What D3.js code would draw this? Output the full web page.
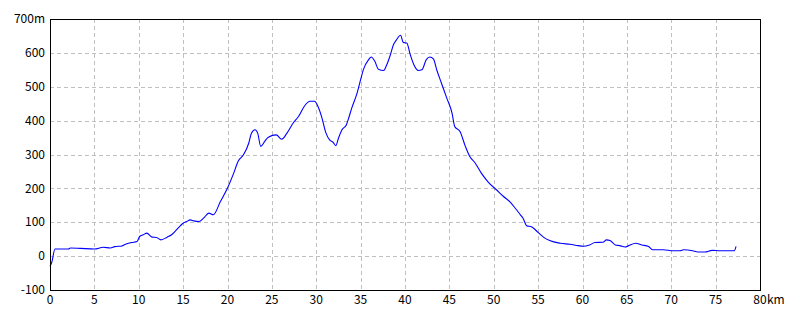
<!DOCTYPE html>
<html>
<head>
<meta charset="utf-8">
<script src="https://cdn.jsdelivr.net/npm/d3@7"></script>
<style>
  body { margin: 0; background: #fff; }
  text { font-family: "Noto Sans CJK JP", "DejaVu Sans", sans-serif; font-size: 12px; fill: #000; }
</style>
</head>
<body>
<div id="chart"></div>
<script>
// elevation profile
var distanceKm = [0, 0.2, 0.56, 2.07, 2.3, 3.4, 5.0, 6.0, 6.8, 7.3, 8.1, 8.5, 9.2, 9.8, 10.1, 10.5, 10.9,
  11.5, 12.0, 12.5, 13.2, 13.7, 14.1, 14.7, 15.0, 15.4, 15.8, 16.2, 16.8, 17.3, 17.9, 18.4, 19.2, 20.0,
  20.7, 21.2, 21.8, 22.4, 22.7, 23.1, 23.4, 23.75, 24.2, 24.6, 25.5, 26.1, 26.7, 27.4, 28.0, 28.7, 29.3,
  29.8, 30.2, 30.6, 31.1, 31.5, 31.9, 32.2, 32.5, 32.9, 33.4, 33.6, 34.0, 34.6, 35.0, 35.3, 35.9, 36.2,
  36.6, 37.0, 37.6, 37.9, 38.3, 38.7, 39.0, 39.5, 39.8, 40.2, 40.6, 41.0, 41.5, 41.9, 42.4, 42.8, 43.2,
  43.6, 44.1, 44.7, 45.3, 45.6, 46.2, 46.8, 47.3, 47.9, 48.6, 49.4, 50.3, 51.1, 51.8, 52.4, 53.0, 53.3,
  53.7, 54.3, 55.0, 55.6, 56.3, 57.5, 58.6, 59.5, 60.1, 60.8, 61.4, 62.3, 62.7, 63.1, 63.7, 64.2, 64.8,
  65.2, 66.0, 66.7, 67.4, 67.9, 69.1, 70.2, 71.0, 71.4, 72.4, 73.0, 73.8, 74.6, 75.5, 77.1, 77.3];
var elevationM = [-30, -18, 21, 21, 24, 23, 21, 26, 24, 28, 30, 35, 40, 43, 58, 63, 68,
  56, 55, 48, 56, 63, 73, 90, 97, 102, 107, 104, 102, 112, 127, 122, 161, 201,
  245, 280, 299, 334, 363, 373, 363, 324, 339, 351, 358, 345, 363, 393, 412, 444, 457,
  457, 442, 412, 363, 343, 336, 326, 348, 373, 388, 403, 437, 481, 521, 550, 580, 588,
  575, 552, 548, 562, 590, 624, 637, 652, 631, 629, 594, 565, 548, 550, 580, 588, 582,
  548, 511, 467, 422, 383, 368, 324, 294, 275, 245, 218, 196, 176, 161, 142, 122, 112,
  90, 86, 70, 56, 46, 38, 35, 31, 29, 33, 40, 41, 48, 46, 33, 31, 27,
  31, 38, 33, 29, 19, 19, 16, 16, 19, 16, 12, 12, 17, 16, 16, 29];
var xTicks = [0, 5, 10, 15, 20, 25, 30, 35, 40, 45, 50, 55, 60, 65, 70, 75, 80];
var yTicks = [-100, 0, 100, 200, 300, 400, 500, 600, 700];

var svg = d3.select("#chart").append("svg")
    .attr("width", 800)
    .attr("height", 320);

var plotLeft = 50, plotRight = 760, plotTop = 19, plotBottom = 290;

var x = d3.scaleLinear().domain([0, 80]).range([plotLeft, plotRight]);
var y = d3.scaleLinear().domain([-100, 700]).range([plotBottom, plotTop]);

// dashed grid
var grid = svg.append("g")
    .attr("stroke", "#c0c0c0")
    .attr("stroke-dasharray", "4,3")
    .attr("shape-rendering", "crispEdges");

grid.selectAll(".gx")
    .data(xTicks.slice(1, -1))
    .enter().append("line")
    .attr("x1", function(d) { return Math.round(x(d)) + 0.5; })
    .attr("x2", function(d) { return Math.round(x(d)) + 0.5; })
    .attr("y1", plotTop).attr("y2", plotBottom);

grid.selectAll(".gy")
    .data(yTicks.slice(1, -1))
    .enter().append("line")
    .attr("y1", function(d) { return Math.round(y(d)) + 0.5; })
    .attr("y2", function(d) { return Math.round(y(d)) + 0.5; })
    .attr("x1", plotLeft).attr("x2", plotRight);

// profile line
var line = d3.line()
    .x(function(d, i) { return x(distanceKm[i]); })
    .y(function(d) { return y(d); })
    .curve(d3.curveMonotoneX);

svg.append("path")
    .datum(elevationM)
    .attr("d", line)
    .attr("fill", "none")
    .attr("stroke", "#0000ff")
    .attr("stroke-width", 1.1);

// frame
svg.append("rect")
    .attr("x", plotLeft + 0.5).attr("y", plotTop + 0.5)
    .attr("width", plotRight - plotLeft).attr("height", plotBottom - plotTop)
    .attr("fill", "none")
    .attr("stroke", "#000")
    .attr("shape-rendering", "crispEdges");

// y labels
svg.selectAll(".ylab")
    .data(yTicks)
    .enter().append("text")
    .attr("x", 45)
    .attr("y", function(d) { return y(d); })
    .attr("dy", "0.35em")
    .attr("text-anchor", "end")
    .text(function(d) { return d == 700 ? d + "m" : d; });

// x labels
svg.selectAll(".xlab")
    .data(xTicks)
    .enter().append("text")
    .attr("x", function(d) { return x(d); })
    .attr("y", 304)
    .attr("text-anchor", "middle")
    .text(function(d) { return d; });

svg.append("text")
    .attr("x", x(80) + 7)
    .attr("y", 304)
    .text("km");
</script>
</body>
</html>
